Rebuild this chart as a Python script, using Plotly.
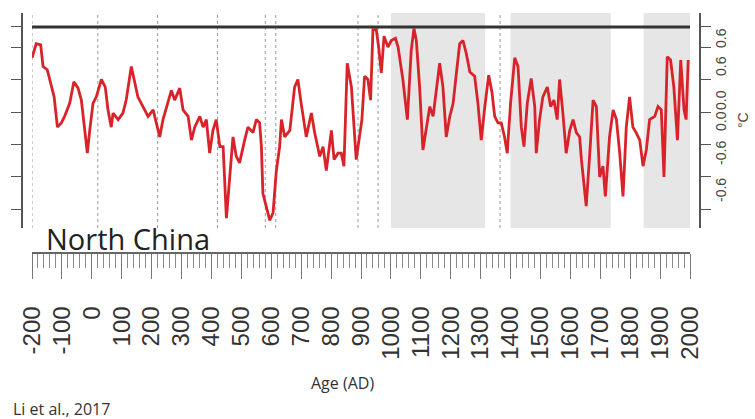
import plotly.graph_objects as go

# ---- data ----
years = [-200, -186, -171, -163, -149, -135, -126, -115, -102, -91, -74, -60, -46, -35, -26, -15, -7, 4, 15, 32,
         45, 54, 65, 71, 88, 104, 115, 132, 154, 188, 205, 227, 238, 255, 266, 277, 294, 305, 322, 333,
         344, 361, 372, 383, 394, 405, 416, 428, 439, 450, 461, 472, 483, 494, 511, 522, 539, 550, 561, 567,
         572, 583, 595, 606, 617, 628, 634, 645, 662, 678, 689, 700, 712, 717, 734, 745, 762, 773, 784, 801,
         810, 823, 834, 843, 854, 868, 884, 903, 912, 923, 932, 940, 951, 959, 968, 977, 990, 1001, 1015, 1024,
         1040, 1055, 1068, 1077, 1085, 1096, 1107, 1118, 1130, 1141, 1152, 1163, 1174, 1185, 1197, 1208, 1219, 1230, 1241, 1252,
         1264, 1280, 1291, 1302, 1314, 1327, 1338, 1347, 1358, 1369, 1380, 1389, 1400, 1414, 1425, 1436, 1445, 1456, 1469, 1481,
         1486, 1497, 1508, 1523, 1534, 1545, 1556, 1564, 1575, 1586, 1598, 1609, 1620, 1631, 1637, 1653, 1665, 1676, 1687, 1698,
         1709, 1717, 1731, 1743, 1754, 1765, 1776, 1787, 1798, 1809, 1820, 1832, 1843, 1854, 1865, 1882, 1893, 1904, 1913, 1924,
         1935, 1946, 1958, 1969, 1980, 1987, 1994]
temps = [0.50, 0.63, 0.62, 0.42, 0.39, 0.23, 0.14, -0.14, -0.10, -0.04, 0.08, 0.28, 0.22, 0.11, -0.14, -0.38, -0.17, 0.08, 0.14, 0.30,
         0.23, 0.02, -0.14, -0.01, -0.07, -0.01, 0.11, 0.42, 0.14, -0.04, 0.02, -0.23, -0.07, 0.11, 0.20, 0.11, 0.22, 0.02, -0.04, -0.26,
         -0.14, -0.04, -0.14, -0.07, -0.38, -0.17, -0.07, -0.32, -0.32, -0.98, -0.60, -0.23, -0.41, -0.47, -0.26, -0.14, -0.19, -0.07, -0.10, -0.32,
         -0.75, -0.87, -1.00, -0.93, -0.54, -0.32, -0.07, -0.23, -0.17, 0.23, 0.30, 0.08, -0.17, -0.23, -0.01, -0.19, -0.41, -0.32, -0.54, -0.17,
         -0.44, -0.38, -0.38, -0.50, 0.45, 0.23, -0.44, -0.07, 0.33, 0.30, 0.11, 0.76, 0.76, 0.60, 0.36, 0.70, 0.60, 0.66, 0.68, 0.60,
         0.30, -0.07, 0.57, 0.77, 0.66, 0.23, -0.35, -0.14, 0.05, -0.04, 0.23, 0.45, 0.23, -0.23, -0.04, 0.08, 0.36, 0.63, 0.66, 0.54,
         0.37, 0.33, 0.08, -0.26, 0.05, 0.34, 0.18, -0.04, -0.10, -0.10, -0.23, -0.38, 0.08, 0.50, 0.42, -0.14, -0.32, 0.08, 0.31, 0.05,
         -0.38, -0.07, 0.14, 0.23, 0.05, 0.11, -0.07, 0.30, -0.01, -0.38, -0.17, -0.07, -0.19, -0.23, -0.44, -0.87, -0.38, 0.11, 0.05, -0.60,
         -0.50, -0.78, -0.23, 0.02, -0.07, -0.38, -0.78, -0.14, 0.14, -0.14, -0.19, -0.26, -0.50, -0.35, -0.07, -0.04, 0.05, 0.02, -0.60, 0.51,
         0.48, 0.23, -0.26, 0.48, 0.02, -0.07, 0.48]

ref_line_years = [-200, 2000]
ref_line_value = 0.785

band_starts = [1000, 1400, 1845]
band_ends = [1315, 1735, 2000]

dotted_years = [-200, 20, 220, 420, 580, 615, 890, 957, 1365]

x_tick_vals = list(range(-200, 2001, 100))
x_tick_labels = [str(v) for v in x_tick_vals]

y_tick_vals = [0.785, 0.6, 0.3, 0.0, -0.3, -0.6, -0.9]
right_labels = ["0.6", "0.6", "0.0", "0.0", "-0.6", "-0.6"]
right_label_vals = [0.683, 0.425, 0.111, -0.083, -0.378, -0.72]

x_range = [-200, 2000]
y_range = [-1.071, 0.914]

W, H = 755, 419

fig = go.Figure()

fig.add_trace(go.Scatter(x=ref_line_years, y=[ref_line_value] * len(ref_line_years),
                         mode="lines", line=dict(color="#333333", width=3),
                         yaxis="y2", hoverinfo="skip", showlegend=False))
fig.add_trace(go.Scatter(x=years, y=temps, mode="lines",
                         line=dict(color="#d8232a", width=2.8),
                         showlegend=False))

shapes = []
for s, e in zip(band_starts, band_ends):
    shapes.append(dict(type="rect", xref="x", yref="y domain", x0=s, x1=e, y0=0, y1=1.0,
                       fillcolor="#e6e6e6", line=dict(width=0), layer="below"))
for d in dotted_years:
    shapes.append(dict(type="line", xref="x", yref="y domain", x0=d, x1=d, y0=0, y1=1.0,
                       line=dict(color="#9a9a9a", width=1, dash="dot"), layer="below"))

annotations = []
for t, v in zip(right_labels, right_label_vals):
    annotations.append(dict(text=t, x=721 / W, xref="paper", y=v, yref="y", showarrow=False,
                            textangle=-90, font=dict(family="Liberation Sans", size=14, color="#444444"),
                            xanchor="center", yanchor="middle"))
annotations += [
    dict(text="°C", x=743 / W, y=1 - 120 / H, xref="paper", yref="paper", showarrow=False, textangle=-90,
         xanchor="center", yanchor="middle",
         font=dict(family="Liberation Sans", size=14, color="#444444")),
    dict(text="North China", x=44 / W, y=1 - 239 / H, xref="paper", yref="paper", showarrow=False,
         xanchor="left", yanchor="middle", font=dict(family="Open Sans", size=29, color="#222222")),
    dict(text="Age (AD)", x=342 / W, y=1 - 383 / H, xref="paper", yref="paper", showarrow=False,
         xanchor="center", yanchor="middle", font=dict(family="Open Sans", size=16, color="#333333")),
    dict(text="Li et al., 2017", x=11 / W, y=1 - 409 / H, xref="paper", yref="paper", showarrow=False,
         xanchor="left", yanchor="middle", font=dict(family="Open Sans", size=16, color="#333333")),
]

yaxis_common = dict(range=y_range, domain=[1 - 228 / H, 1 - 13 / H], showgrid=False, zeroline=False,
                    showline=True, linecolor="#555555", linewidth=1.5, ticks="outside", ticklen=10,
                    tickcolor="#555555", tickvals=y_tick_vals, showticklabels=False, anchor="free",
                    automargin=False)

fig.update_layout(
    width=W, height=H, autosize=False,
    margin=dict(l=0, r=0, t=0, b=0, pad=0, autoexpand=False),
    paper_bgcolor="white", plot_bgcolor="white",
    xaxis=dict(range=x_range, domain=[32 / W, 690 / W], anchor="free", position=1 - 253 / H,
               automargin=False,
               showgrid=False, zeroline=False, showline=True, linecolor="#666666", linewidth=1.5,
               ticks="outside", ticklen=25, tickcolor="#777777", tickwidth=1,
               tickvals=x_tick_vals, ticktext=x_tick_labels, tickangle=-90, ticklabelstandoff=18,
               tickfont=dict(family="Liberation Sans", size=24, color="#333333"),
               minor=dict(dtick=20, tick0=-200, ticks="outside", ticklen=14, tickcolor="#8a8a8a", tickwidth=1)),
    yaxis=dict(side="right", position=700 / W, **yaxis_common),
    yaxis2=dict(side="left", position=22 / W, overlaying="y", **yaxis_common),
    shapes=shapes, annotations=annotations,
)

fig.write_html("out.html", config={"displayModeBar": False})

# remove the browser's default page margin so the figure sits at the top-left corner
with open("out.html", "r", encoding="utf-8") as f:
    page = f.read()
page = page.replace("<head>", "<head><style>html,body{margin:0;padding:0;overflow:hidden;}</style>", 1)
with open("out.html", "w", encoding="utf-8") as f:
    f.write(page)
